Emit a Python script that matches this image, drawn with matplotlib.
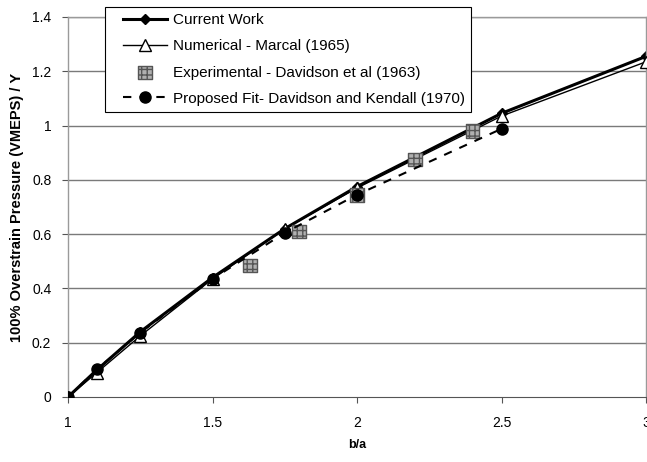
import matplotlib
matplotlib.use("Agg")
import matplotlib.pyplot as plt
from matplotlib.lines import Line2D
from matplotlib.collections import PathCollection
from matplotlib.legend_handler import HandlerLine2D, HandlerPathCollection

plt.rcParams['font.family'] = ['Liberation Sans', 'DejaVu Sans']

# b/a ratios and normalised 100% overstrain pressures
current_x = [1.0, 1.1, 1.25, 1.5, 1.75, 2.0, 2.5, 3.0]
current_y = [0.0, 0.10, 0.24, 0.44, 0.62, 0.775, 1.045, 1.255]

marcal_x = [1.0, 1.1, 1.25, 1.5, 1.75, 2.0, 2.5, 3.0]
marcal_y = [0.0, 0.09, 0.225, 0.435, 0.62, 0.77, 1.035, 1.235]

exp_x = [1.63, 1.8, 2.0, 2.2, 2.4]
exp_y = [0.485, 0.61, 0.745, 0.875, 0.98]

fit_x = [1.0, 1.1, 1.25, 1.5, 1.75, 2.0, 2.5]
fit_y = [0.0, 0.102, 0.237, 0.435, 0.605, 0.745, 0.988]

x_ticks = [1, 1.5, 2, 2.5, 3]
x_tick_labels = ["1", "1.5", "2", "2.5", "3"]
y_ticks = [0, 0.2, 0.4, 0.6, 0.8, 1.0, 1.2, 1.4]
y_tick_labels = ["0", "0.2", "0.4", "0.6", "0.8", "1", "1.2", "1.4"]

fig = plt.figure(figsize=(6.47, 4.62), dpi=100)
ax = fig.add_axes([68 / 647, 65 / 462, 578 / 647, 380 / 462])

ax.set_xlim(1, 3)
ax.set_ylim(0, 1.4)

for y in y_ticks[1:]:
    ax.axhline(y, color='#7a7a7a', lw=1.0, zorder=0)

ax.plot(current_x, current_y, color='black', lw=2.2, marker='D', ms=5.5,
        zorder=2, label='Current Work')
ax.plot(marcal_x, marcal_y, color='black', lw=1.0, marker='^', ms=8,
        markerfacecolor='white', markeredgecolor='black', mew=1.0,
        zorder=3, label='Numerical - Marcal (1965)')
ax.scatter(exp_x, exp_y, marker='s', s=95, facecolor='#b0b0b0',
           edgecolor='#555555', linewidths=1.0, hatch='+++', zorder=4,
           label='Experimental - Davidson et al (1963)')
ax.plot(fit_x, fit_y, color='black', lw=1.5, ls=(0, (4, 4)), marker='o',
        ms=8, zorder=5, label='Proposed Fit- Davidson and Kendall (1970)')

ax.set_xticks(x_ticks)
ax.set_xticklabels(x_tick_labels)
ax.set_yticks(y_ticks)
ax.set_yticklabels(y_tick_labels)
ax.tick_params(axis='both', labelsize=10, length=4, width=0.8,
               color='#555555', direction='out', pad=8)
ax.tick_params(axis='x', pad=10)

for side in ['top', 'right', 'left']:
    ax.spines[side].set_color('#9a9a9a')
    ax.spines[side].set_linewidth(1.0)
ax.spines['bottom'].set_color('#555555')

ax.set_xlabel('b/a', fontsize=9, fontweight='bold', labelpad=6)
ax.set_ylabel('100% Overstrain Pressure (VMEPS) / Y', fontsize=10.5,
              fontweight='bold', labelpad=6)

pad = 0.76
leg = ax.legend(loc='upper left', bbox_to_anchor=(105 / 647, 1 - 7 / 462),
                bbox_transform=fig.transFigure, fontsize=11, frameon=True,
                fancybox=False, edgecolor='black', framealpha=1,
                handlelength=3.64, borderpad=0.42, labelspacing=0.79,
                handletextpad=0.39, borderaxespad=0, scatterpoints=1,
                handler_map={Line2D: HandlerLine2D(xpad=pad),
                             PathCollection: HandlerPathCollection(xpad=pad)})
leg.get_frame().set_linewidth(0.8)
leg.set_zorder(10)

fig.savefig('out.png', dpi=100)
